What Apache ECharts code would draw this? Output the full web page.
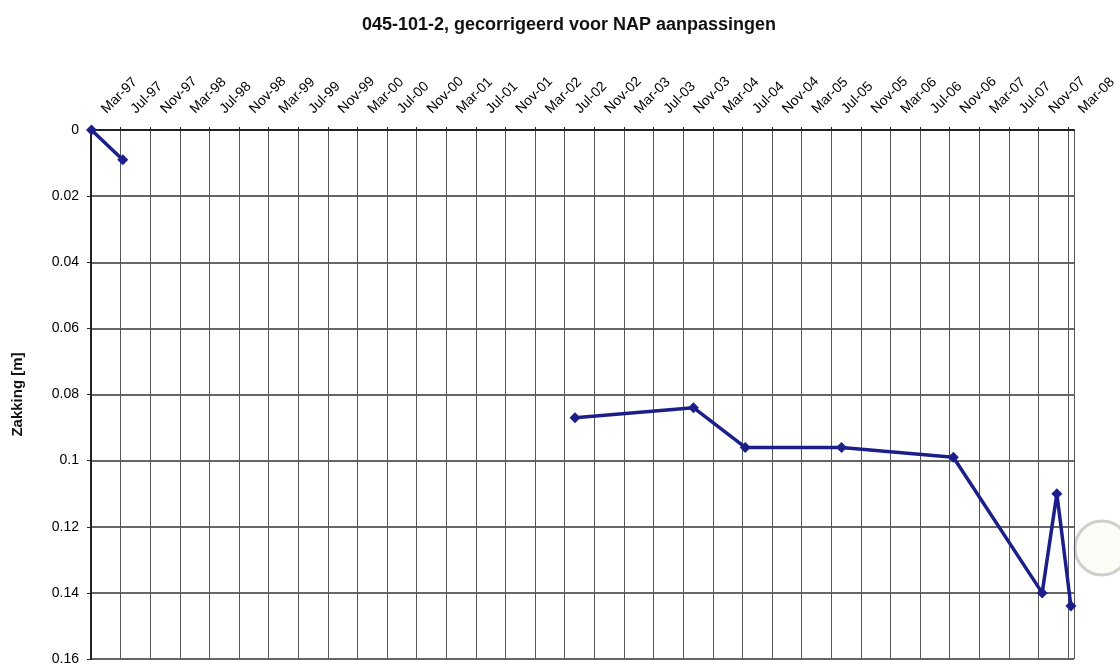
<!DOCTYPE html>
<html>
<head>
<meta charset="utf-8">
<script src="https://cdn.jsdelivr.net/npm/echarts@6/dist/echarts.min.js"></script>
<style>
  html, body { margin: 0; padding: 0; background: #fff; }
  #main { width: 1120px; height: 666px; }
</style>
</head>
<body>
<div id="main"></div>
<script>
// meetdata (datum, zakking in m); null = onderbreking in de reeks
var dates = ['1997-03-03', '1997-07-10', null, '2002-08-13', '2003-12-13', '2004-07-13',
             '2005-08-13', '2006-11-16', '2007-11-16', '2008-01-16', '2008-03-13'];
var zakking = [0, 0.009, null, 0.087, 0.084, 0.096, 0.096, 0.099, 0.140, 0.110, 0.144];
var months = ['Jan', 'Feb', 'Mar', 'Apr', 'May', 'Jun', 'Jul', 'Aug', 'Sep', 'Oct', 'Nov', 'Dec'];
var yTicks = [0, 0.02, 0.04, 0.06, 0.08, 0.1, 0.12, 0.14, 0.16];

// maanden sinds maart 1997
function toMonths(d) {
    var p = d.split('-');
    var y = +p[0], m = +p[1], day = +p[2];
    var dim = new Date(y, m, 0).getDate();
    return (y - 1997) * 12 + (m - 3) + (day - 1) / dim;
}
function monthLabel(v) {
    if (v % 4 !== 0) return '';
    var total = 2 + v;   // maart = index 2
    var y = 1997 + Math.floor(total / 12);
    var m = total % 12;
    return months[m] + '-' + String(y % 100).padStart(2, '0');
}

var points = dates.map(function (d, i) {
    return d === null ? [null, null] : [toMonths(d), zakking[i]];
});

var chart = echarts.init(document.getElementById('main'));
var option = {
    backgroundColor: '#fff',
    animation: false,
    title: {
        text: '045-101-2, gecorrigeerd voor NAP aanpassingen',
        left: 564,
        textAlign: 'center',
        top: 11,
        textStyle: { fontFamily: 'Liberation Sans, Arial', fontSize: 18, fontWeight: 'bold', color: '#111' }
    },
    grid: { left: 91, top: 130, right: 46, bottom: 6 },
    xAxis: {
        type: 'value',
        position: 'top',
        min: 0,
        max: 132.8,
        interval: 4,
        axisLine: { show: true, lineStyle: { color: '#222', width: 2 } },
        axisTick: { show: true, length: 3, lineStyle: { color: '#222' } },
        axisLabel: {
            rotate: 45,
            margin: 6,
            padding: [0, 0, 0, 18],
            formatter: monthLabel,
            showMaxLabel: false,
            fontFamily: 'Liberation Sans, Arial',
            fontSize: 14,
            color: '#000'
        },
        splitLine: { show: true, lineStyle: { color: '#555', width: 1 } }
    },
    yAxis: {
        type: 'value',
        inverse: true,
        min: yTicks[0],
        max: yTicks[yTicks.length - 1],
        interval: 0.02,
        name: 'Zakking [m]',
        nameLocation: 'middle',
        nameRotate: 90,
        nameGap: 66,
        nameTextStyle: { fontFamily: 'Liberation Sans, Arial', fontSize: 15, fontWeight: 'bold', color: '#111' },
        axisLine: { show: true, lineStyle: { color: '#222', width: 2 } },
        axisTick: { show: true, length: 4, lineStyle: { color: '#222' } },
        axisLabel: {
            fontFamily: 'Liberation Sans, Arial',
            fontSize: 14,
            color: '#000',
            margin: 12,
            formatter: function (v) { return String(+v.toFixed(2)); }
        },
        splitLine: { show: true, lineStyle: { color: '#333', width: 1.5 } }
    },
    series: [{
        type: 'line',
        data: points,
        connectNulls: false,
        symbol: 'diamond',
        symbolSize: 11,
        itemStyle: { color: '#1c1f8a' },
        lineStyle: { color: '#1c1f8a', width: 3.5 }
    }],
    graphic: [{
        type: 'circle',
        shape: { cx: 1102, cy: 548, r: 27 },
        style: { fill: '#fafcf6', stroke: '#cfcfcf', lineWidth: 3 },
        silent: true
    }]
};
chart.setOption(option);
</script>
</body>
</html>
